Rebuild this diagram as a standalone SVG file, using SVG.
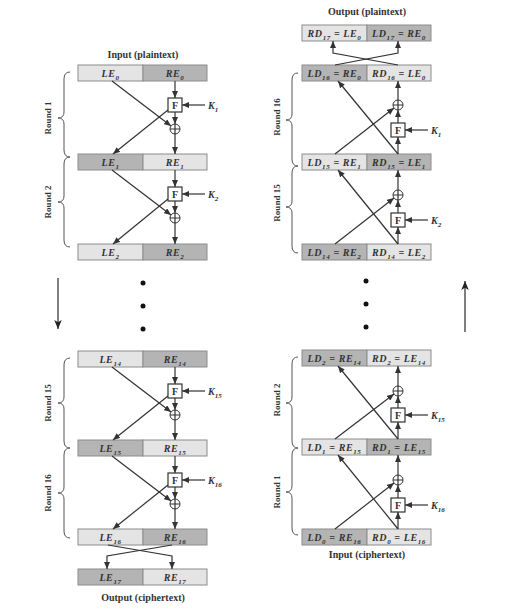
<svg xmlns="http://www.w3.org/2000/svg" width="506" height="611" viewBox="0 0 506 611">
<defs>
<marker id="ah" markerUnits="userSpaceOnUse" markerWidth="7" markerHeight="6" refX="7" refY="3" orient="auto"><path d="M0,0 L7,3 L0,6 z" fill="#333"/></marker>
<marker id="big" markerUnits="userSpaceOnUse" markerWidth="9" markerHeight="14" refX="12" refY="5" viewBox="0 0 12 10" orient="auto"><path d="M0,0 L12,5 L0,10 L3,5 z" fill="#222"/></marker>
<style>
.lt{fill:#e4e4e4;stroke:#8c8c8c;stroke-width:1}
.dk{fill:#b4b4b4;stroke:#8c8c8c;stroke-width:1}
.t{font-family:"Liberation Serif",serif;font-weight:bold;font-style:italic;font-size:10px;text-anchor:middle;fill:#333;letter-spacing:0.6px}
.s{font-size:7px}
.cap{font-family:"Liberation Serif",serif;font-weight:bold;font-size:10px;text-anchor:middle;fill:#333}
.rnd{font-family:"Liberation Serif",serif;font-weight:bold;font-size:9px;text-anchor:middle;fill:#333}
.f{font-family:"Liberation Serif",serif;font-weight:bold;font-size:10px;text-anchor:middle;fill:#333}
.k{font-family:"Liberation Serif",serif;font-weight:bold;font-style:italic;font-size:10px;fill:#333}
.ln{stroke:#333;stroke-width:1.2;fill:none}
.a{marker-end:url(#ah)}
.fb{fill:#fff;stroke:#333;stroke-width:1.2}
.x{fill:#fff;stroke:#333;stroke-width:1}
.br{stroke:#555;stroke-width:1;fill:none}
</style>
</defs>
<rect width="506" height="611" fill="#fff"/>

<!-- captions -->
<text class="cap" x="143" y="58">Input (plaintext)</text>
<text class="cap" x="143" y="601">Output (ciphertext)</text>
<text class="cap" x="367" y="15">Output (plaintext)</text>
<text class="cap" x="367" y="558">Input (ciphertext)</text>

<!-- round labels & braces -->
<g id="braces">
<path class="br" d="M70,72 Q64,72 64,79 L64,112 Q64,118 58,118 Q64,118 64,124 L64,150 Q64,157 70,157"/>
<path class="br" d="M70,157 Q64,157 64,164 L64,196 Q64,202 58,202 Q64,202 64,208 L64,240 Q64,247 70,247"/>
<path class="br" d="M70,358 Q64,358 64,365 L64,397 Q64,403 58,403 Q64,403 64,409 L64,441 Q64,448 70,448"/>
<path class="br" d="M70,448 Q64,448 64,455 L64,487 Q64,493 58,493 Q64,493 64,499 L64,531 Q64,538 70,538"/>
<path class="br" d="M298,73 Q292,73 292,80 L292,114 Q292,120 286,120 Q292,120 292,126 L292,159 Q292,166 298,166"/>
<path class="br" d="M298,166 Q292,166 292,173 L292,201 Q292,207 286,207 Q292,207 292,213 L292,246 Q292,253 298,253"/>
<path class="br" d="M298,357 Q292,357 292,364 L292,397 Q292,403 286,403 Q292,403 292,409 L292,441 Q292,448 298,448"/>
<path class="br" d="M298,448 Q292,448 292,455 L292,486 Q292,492 286,492 Q292,492 292,498 L292,528 Q292,535 298,535"/>
<text class="rnd" transform="translate(51,118) rotate(-90)">Round 1</text>
<text class="rnd" transform="translate(51,202) rotate(-90)">Round 2</text>
<text class="rnd" transform="translate(51,403) rotate(-90)">Round 15</text>
<text class="rnd" transform="translate(51,493) rotate(-90)">Round 16</text>
<text class="rnd" transform="translate(280,117) rotate(-90)">Round 16</text>
<text class="rnd" transform="translate(280,203) rotate(-90)">Round 15</text>
<text class="rnd" transform="translate(280,400) rotate(-90)">Round 2</text>
<text class="rnd" transform="translate(280,492) rotate(-90)">Round 1</text>
</g>

<!-- left boxes -->
<g id="L0"><rect class="lt" x="78" y="65" width="65" height="16"/><rect class="dk" x="143" y="65" width="64" height="16"/>
<text class="t" x="110.5" y="77">LE<tspan class="s" dy="3">0</tspan></text><text class="t" x="175" y="77">RE<tspan class="s" dy="3">0</tspan></text></g>
<g id="L1"><rect class="dk" x="78" y="154" width="65" height="16"/><rect class="lt" x="143" y="154" width="64" height="16"/>
<text class="t" x="110.5" y="166">LE<tspan class="s" dy="3">1</tspan></text><text class="t" x="175" y="166">RE<tspan class="s" dy="3">1</tspan></text></g>
<g id="L2"><rect class="lt" x="78" y="244" width="65" height="16"/><rect class="dk" x="143" y="244" width="64" height="16"/>
<text class="t" x="110.5" y="256">LE<tspan class="s" dy="3">2</tspan></text><text class="t" x="175" y="256">RE<tspan class="s" dy="3">2</tspan></text></g>
<g id="L14"><rect class="lt" x="78" y="351" width="65" height="16"/><rect class="dk" x="143" y="351" width="64" height="16"/>
<text class="t" x="110.5" y="363">LE<tspan class="s" dy="3">14</tspan></text><text class="t" x="175" y="363">RE<tspan class="s" dy="3">14</tspan></text></g>
<g id="L15"><rect class="dk" x="78" y="440" width="65" height="16"/><rect class="lt" x="143" y="440" width="64" height="16"/>
<text class="t" x="110.5" y="452">LE<tspan class="s" dy="3">15</tspan></text><text class="t" x="175" y="452">RE<tspan class="s" dy="3">15</tspan></text></g>
<g id="L16"><rect class="lt" x="78" y="529" width="65" height="16"/><rect class="dk" x="143" y="529" width="64" height="16"/>
<text class="t" x="110.5" y="541">LE<tspan class="s" dy="3">16</tspan></text><text class="t" x="175" y="541">RE<tspan class="s" dy="3">16</tspan></text></g>
<g id="L17"><rect class="dk" x="78" y="569" width="65" height="16"/><rect class="lt" x="143" y="569" width="64" height="16"/>
<text class="t" x="110.5" y="581">LE<tspan class="s" dy="3">17</tspan></text><text class="t" x="175" y="581">RE<tspan class="s" dy="3">17</tspan></text></g>

<!-- right boxes -->
<g id="R17"><rect class="lt" x="302" y="25" width="65" height="16"/><rect class="dk" x="367" y="25" width="64" height="16"/>
<text class="t" x="334.5" y="37">RD<tspan class="s" dy="3">17</tspan><tspan dy="-3"> = LE</tspan><tspan class="s" dy="3">0</tspan></text>
<text class="t" x="399" y="37">LD<tspan class="s" dy="3">17</tspan><tspan dy="-3"> = RE</tspan><tspan class="s" dy="3">0</tspan></text></g>
<g id="R16"><rect class="dk" x="302" y="65" width="65" height="16"/><rect class="lt" x="367" y="65" width="64" height="16"/>
<text class="t" x="334.5" y="77">LD<tspan class="s" dy="3">16</tspan><tspan dy="-3"> = RE</tspan><tspan class="s" dy="3">0</tspan></text>
<text class="t" x="399" y="77">RD<tspan class="s" dy="3">16</tspan><tspan dy="-3"> = LE</tspan><tspan class="s" dy="3">0</tspan></text></g>
<g id="R15"><rect class="lt" x="302" y="154" width="65" height="16"/><rect class="dk" x="367" y="154" width="64" height="16"/>
<text class="t" x="334.5" y="166">LD<tspan class="s" dy="3">15</tspan><tspan dy="-3"> = RE</tspan><tspan class="s" dy="3">1</tspan></text>
<text class="t" x="399" y="166">RD<tspan class="s" dy="3">15</tspan><tspan dy="-3"> = LE</tspan><tspan class="s" dy="3">1</tspan></text></g>
<g id="R14"><rect class="dk" x="302" y="244" width="65" height="16"/><rect class="lt" x="367" y="244" width="64" height="16"/>
<text class="t" x="334.5" y="256">LD<tspan class="s" dy="3">14</tspan><tspan dy="-3"> = RE</tspan><tspan class="s" dy="3">2</tspan></text>
<text class="t" x="399" y="256">RD<tspan class="s" dy="3">14</tspan><tspan dy="-3"> = LE</tspan><tspan class="s" dy="3">2</tspan></text></g>
<g id="R2"><rect class="dk" x="302" y="350" width="65" height="16"/><rect class="lt" x="367" y="350" width="64" height="16"/>
<text class="t" x="334.5" y="362">LD<tspan class="s" dy="3">2</tspan><tspan dy="-3"> = RE</tspan><tspan class="s" dy="3">14</tspan></text>
<text class="t" x="399" y="362">RD<tspan class="s" dy="3">2</tspan><tspan dy="-3"> = LE</tspan><tspan class="s" dy="3">14</tspan></text></g>
<g id="R1"><rect class="lt" x="302" y="439" width="65" height="16"/><rect class="dk" x="367" y="439" width="64" height="16"/>
<text class="t" x="334.5" y="451">LD<tspan class="s" dy="3">1</tspan><tspan dy="-3"> = RE</tspan><tspan class="s" dy="3">15</tspan></text>
<text class="t" x="399" y="451">RD<tspan class="s" dy="3">1</tspan><tspan dy="-3"> = LE</tspan><tspan class="s" dy="3">15</tspan></text></g>
<g id="R0"><rect class="dk" x="302" y="529" width="65" height="16"/><rect class="lt" x="367" y="529" width="64" height="16"/>
<text class="t" x="334.5" y="541">LD<tspan class="s" dy="3">0</tspan><tspan dy="-3"> = RE</tspan><tspan class="s" dy="3">16</tspan></text>
<text class="t" x="399" y="541">RD<tspan class="s" dy="3">0</tspan><tspan dy="-3"> = LE</tspan><tspan class="s" dy="3">16</tspan></text></g>

<!-- connectors -->
<g id="connectors" class="ln">
<!-- left round 1 -->
<line class="a" x1="175" y1="81" x2="175" y2="98"/>
<line class="a" x1="175" y1="112" x2="175" y2="124"/>
<line class="a" x1="175" y1="134" x2="175" y2="154"/>
<line class="a" x1="205" y1="105" x2="182" y2="105"/>
<line class="a" x1="112" y1="81" x2="171" y2="126"/>
<line class="a" x1="168" y1="110" x2="113" y2="154"/>
<!-- left round 2 -->
<line class="a" x1="175" y1="170" x2="175" y2="187"/>
<line class="a" x1="175" y1="201" x2="175" y2="213"/>
<line class="a" x1="175" y1="223" x2="175" y2="244"/>
<line class="a" x1="205" y1="194" x2="182" y2="194"/>
<line class="a" x1="112" y1="170" x2="171" y2="215"/>
<line class="a" x1="168" y1="199" x2="113" y2="244"/>
<!-- left round 15 -->
<line class="a" x1="175" y1="367" x2="175" y2="384"/>
<line class="a" x1="175" y1="398" x2="175" y2="410"/>
<line class="a" x1="175" y1="420" x2="175" y2="440"/>
<line class="a" x1="205" y1="391" x2="182" y2="391"/>
<line class="a" x1="112" y1="367" x2="171" y2="412"/>
<line class="a" x1="168" y1="396" x2="113" y2="440"/>
<!-- left round 16 -->
<line class="a" x1="175" y1="456" x2="175" y2="473"/>
<line class="a" x1="175" y1="487" x2="175" y2="499"/>
<line class="a" x1="175" y1="509" x2="175" y2="529"/>
<line class="a" x1="205" y1="480" x2="182" y2="480"/>
<line class="a" x1="112" y1="456" x2="171" y2="501"/>
<line class="a" x1="168" y1="485" x2="113" y2="529"/>
<!-- left swap -->
<polyline class="a" points="108,545 172,556 172,569"/>
<polyline class="a" points="172,545 107,556 107,569"/>
<!-- right round 16 -->
<line class="a" x1="398" y1="154" x2="398" y2="137"/>
<line class="a" x1="398" y1="123" x2="398" y2="110"/>
<line class="a" x1="398" y1="100" x2="398" y2="81"/>
<line class="a" x1="428" y1="130" x2="405" y2="130"/>
<line class="a" x1="335" y1="154" x2="394" y2="108"/>
<line class="a" x1="398" y1="154" x2="338" y2="81"/>
<!-- right round 15 -->
<line class="a" x1="398" y1="244" x2="398" y2="227"/>
<line class="a" x1="398" y1="213" x2="398" y2="200"/>
<line class="a" x1="398" y1="190" x2="398" y2="170"/>
<line class="a" x1="428" y1="220" x2="405" y2="220"/>
<line class="a" x1="335" y1="244" x2="394" y2="198"/>
<line class="a" x1="398" y1="244" x2="338" y2="170"/>
<!-- right round 2 -->
<line class="a" x1="398" y1="439" x2="398" y2="422"/>
<line class="a" x1="398" y1="408" x2="398" y2="396"/>
<line class="a" x1="398" y1="386" x2="398" y2="366"/>
<line class="a" x1="428" y1="415" x2="405" y2="415"/>
<line class="a" x1="335" y1="439" x2="394" y2="394"/>
<line class="a" x1="398" y1="439" x2="338" y2="366"/>
<!-- right round 1 -->
<line class="a" x1="398" y1="529" x2="398" y2="512"/>
<line class="a" x1="398" y1="498" x2="398" y2="485"/>
<line class="a" x1="398" y1="475" x2="398" y2="455"/>
<line class="a" x1="428" y1="505" x2="405" y2="505"/>
<line class="a" x1="335" y1="529" x2="394" y2="483"/>
<line class="a" x1="398" y1="529" x2="338" y2="455"/>
<!-- right swap -->
<polyline class="a" points="335,65 398,53 398,41"/>
<polyline class="a" points="398,65 333,53 333,41"/>
<!-- direction arrows -->
<line x1="58" y1="278" x2="58" y2="329" stroke="#555" stroke-width="1.5" marker-end="url(#big)"/>
<line x1="465" y1="332" x2="465" y2="281" stroke="#555" stroke-width="1.5" marker-end="url(#big)"/>
</g>

<!-- F boxes and XORs -->
<g id="F-L1"><rect class="fb" x="168" y="98" width="14" height="14"/><text class="f" x="175" y="109">F</text></g>
<g id="X-L1"><circle class="x" cx="175" cy="129" r="5"/><path class="ln" d="M170,129 H180 M175,124 V134"/></g>
<g id="F-L2"><rect class="fb" x="168" y="187" width="14" height="14"/><text class="f" x="175" y="198">F</text></g>
<g id="X-L2"><circle class="x" cx="175" cy="218" r="5"/><path class="ln" d="M170,218 H180 M175,213 V223"/></g>
<g id="F-L15"><rect class="fb" x="168" y="384" width="14" height="14"/><text class="f" x="175" y="395">F</text></g>
<g id="X-L15"><circle class="x" cx="175" cy="415" r="5"/><path class="ln" d="M170,415 H180 M175,410 V420"/></g>
<g id="F-L16"><rect class="fb" x="168" y="473" width="14" height="14"/><text class="f" x="175" y="484">F</text></g>
<g id="X-L16"><circle class="x" cx="175" cy="504" r="5"/><path class="ln" d="M170,504 H180 M175,499 V509"/></g>

<g id="F-R16"><rect class="fb" x="391" y="123" width="14" height="14"/><text class="f" x="398" y="134">F</text></g>
<g id="X-R16"><circle class="x" cx="398" cy="105" r="5"/><path class="ln" d="M393,105 H403 M398,100 V110"/></g>
<g id="F-R15"><rect class="fb" x="391" y="213" width="14" height="14"/><text class="f" x="398" y="224">F</text></g>
<g id="X-R15"><circle class="x" cx="398" cy="195" r="5"/><path class="ln" d="M393,195 H403 M398,190 V200"/></g>
<g id="F-R2"><rect class="fb" x="391" y="408" width="14" height="14"/><text class="f" x="398" y="419">F</text></g>
<g id="X-R2"><circle class="x" cx="398" cy="391" r="5"/><path class="ln" d="M393,391 H403 M398,386 V396"/></g>
<g id="F-R1"><rect class="fb" x="391" y="498" width="14" height="14"/><text class="f" x="398" y="509">F</text></g>
<g id="X-R1"><circle class="x" cx="398" cy="480" r="5"/><path class="ln" d="M393,480 H403 M398,475 V485"/></g>

<!-- keys -->
<g id="keys">
<text class="k" x="208" y="109">K<tspan class="s" dy="3">1</tspan></text>
<text class="k" x="208" y="198">K<tspan class="s" dy="3">2</tspan></text>
<text class="k" x="208" y="395">K<tspan class="s" dy="3">15</tspan></text>
<text class="k" x="208" y="484">K<tspan class="s" dy="3">16</tspan></text>
<text class="k" x="431" y="134">K<tspan class="s" dy="3">1</tspan></text>
<text class="k" x="431" y="224">K<tspan class="s" dy="3">2</tspan></text>
<text class="k" x="431" y="419">K<tspan class="s" dy="3">15</tspan></text>
<text class="k" x="431" y="509">K<tspan class="s" dy="3">16</tspan></text>
</g>

<!-- ellipsis dots -->
<g id="dots" fill="#111">
<circle cx="143" cy="283" r="2.5"/><circle cx="143" cy="306" r="2.5"/><circle cx="143" cy="329" r="2.5"/>
<circle cx="366" cy="281" r="2.5"/><circle cx="366" cy="304" r="2.5"/><circle cx="366" cy="327" r="2.5"/>
</g>
</svg>
